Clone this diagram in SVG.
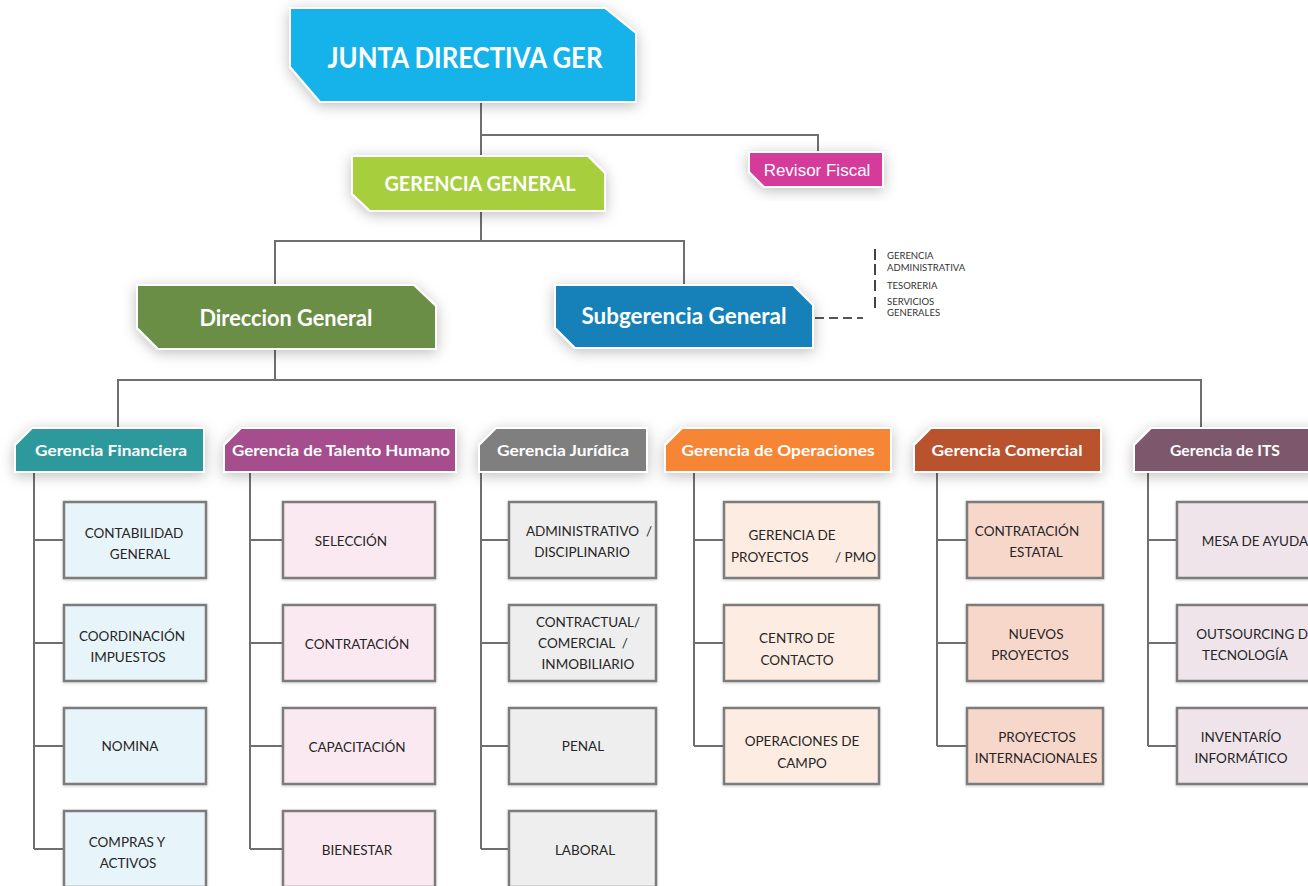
<svg xmlns="http://www.w3.org/2000/svg" width="1308" height="886" viewBox="0 0 1308 886">
<defs>
<filter id="sh" x="-20%" y="-40%" width="140%" height="180%">
<feDropShadow dx="0" dy="3" stdDeviation="7" flood-color="#000" flood-opacity="0.25"/>
</filter>
<filter id="sh2" x="-10%" y="-10%" width="120%" height="130%">
<feDropShadow dx="0" dy="1" stdDeviation="1.5" flood-color="#000" flood-opacity="0.2"/>
</filter>
</defs>
<style>
.shape{stroke:#ffffff;stroke-width:2;filter:url(#sh)}
.big{font-family:Lato,"Liberation Sans",sans-serif;font-weight:700;fill:#ffffff;text-anchor:middle}
.hd{font-family:Lato,"Liberation Sans",sans-serif;font-weight:700;font-size:15px;fill:#ffffff;text-anchor:middle}
.box{stroke:#7b7b7b;stroke-width:2.5;filter:url(#sh2)}
.bt{font-family:Lato,"Liberation Sans",sans-serif;font-size:13.5px;fill:#262626;text-anchor:middle}
.st{text-anchor:start}
.en{text-anchor:end}
.ln{fill:none;stroke:#6f6f6f;stroke-width:2}
.sl{font-family:Lato,"Liberation Sans",sans-serif;font-size:9.5px;fill:#333333}
.fin{fill:#e7f4f9}.th{fill:#fbe9f1}.jur{fill:#eeeeee}.op{fill:#fdece1}.com{fill:#f8d7cb}.its{fill:#efe4ea}
</style>

<g id="connectors">
<path class="ln" d="M481,102 V156 M481,135 H818 V152"/>
<path class="ln" d="M481,211 V241 M275,241 H684 M275,240 V285 M684,240 V285"/>
<path class="ln" d="M275,349 V380 M118,380 H1201 M118,379 V428 M1201,379 V428"/>
<path fill="none" stroke="#555" stroke-width="2" stroke-dasharray="9,5" d="M815,318 H863"/>
<path class="ln" d="M34,472 V849 M34,540 H64 M34,643 H64 M34,746 H64 M34,849 H64"/>
<path class="ln" d="M250,472 V849 M250,540 H283 M250,643 H283 M250,746 H283 M250,849 H283"/>
<path class="ln" d="M481,472 V849 M481,540 H509 M481,643 H509 M481,746 H509 M481,849 H509"/>
<path class="ln" d="M694,472 V746 M694,540 H724 M694,643 H724 M694,746 H724"/>
<path class="ln" d="M937,472 V746 M937,540 H967 M937,643 H967 M937,746 H967"/>
<path class="ln" d="M1148,472 V746 M1148,540 H1177 M1148,643 H1177 M1148,746 H1177"/>
</g>

<g id="junta">
<path class="shape" fill="#17b3ea" d="M290,8 H605 L636,33 V102 H320 L290,67 Z"/>
<text class="big" x="465" y="68" font-size="29" textLength="275" lengthAdjust="spacingAndGlyphs">JUNTA DIRECTIVA GER</text>
</g>
<g id="revisor">
<path class="shape" fill="#d53b9b" d="M749,152 H883 V187 H764 L749,172 Z"/>
<text x="817" y="176" font-family="'Liberation Sans',Arial,sans-serif" font-size="17" fill="#ffffff" text-anchor="middle">Revisor Fiscal</text>
</g>
<g id="gerencia-general">
<path class="shape" fill="#a6ce3c" d="M352,156 H588 L605,173 V211 H370 L352,194 Z"/>
<text class="big" x="480" y="191" font-size="20" textLength="191" lengthAdjust="spacingAndGlyphs">GERENCIA GENERAL</text>
</g>
<g id="direccion-general">
<path class="shape" fill="#6a8e45" d="M137,285 H414 L436,306 V349 H158 L137,328 Z"/>
<text class="big" x="286" y="326" font-size="22" textLength="173" lengthAdjust="spacingAndGlyphs">Direccion General</text>
</g>
<g id="subgerencia-general">
<path class="shape" fill="#1681b8" d="M555,285 H793 L813,305 V348 H575 L555,328 Z"/>
<text class="big" x="684" y="324" font-size="22" textLength="205" lengthAdjust="spacingAndGlyphs">Subgerencia General</text>
</g>
<g id="subgerencia-list">
<rect x="874" y="249" width="2" height="11" fill="#444"/>
<rect x="874" y="264" width="2" height="11" fill="#444"/>
<rect x="874" y="280" width="2" height="11" fill="#444"/>
<rect x="874" y="297" width="2" height="11" fill="#444"/>
<text class="sl" x="887" y="259">GERENCIA</text>
<text class="sl" x="887" y="271">ADMINISTRATIVA</text>
<text class="sl" x="887" y="289">TESORERIA</text>
<text class="sl" x="887" y="305">SERVICIOS</text>
<text class="sl" x="887" y="316">GENERALES</text>
</g>

<g id="h-financiera">
<path class="shape" fill="#2d999d" d="M32,428 H204 V472 H15 V445 Z"/>
<text class="hd" x="111" y="456" textLength="152" lengthAdjust="spacingAndGlyphs">Gerencia Financiera</text>
</g>
<g id="h-talento">
<path class="shape" fill="#a64e8d" d="M241,428 H456 V472 H224 V445 Z"/>
<text class="hd" x="341" y="456" textLength="218" lengthAdjust="spacingAndGlyphs">Gerencia de Talento Humano</text>
</g>
<g id="h-juridica">
<path class="shape" fill="#7f7f80" d="M496,428 H647 V472 H479 V445 Z"/>
<text class="hd" x="563" y="456" textLength="132" lengthAdjust="spacingAndGlyphs">Gerencia Jurídica</text>
</g>
<g id="h-operaciones">
<path class="shape" fill="#f68634" d="M682,428 H891 V472 H665 V445 Z"/>
<text class="hd" x="778" y="456" textLength="193" lengthAdjust="spacingAndGlyphs">Gerencia de Operaciones</text>
</g>
<g id="h-comercial">
<path class="shape" fill="#b9532f" d="M931,428 H1101 V472 H914 V445 Z"/>
<text class="hd" x="1007" y="456" textLength="151" lengthAdjust="spacingAndGlyphs">Gerencia Comercial</text>
</g>
<g id="h-its">
<path class="shape" fill="#7d586d" d="M1151,428 H1320 V472 H1134 V445 Z"/>
<text class="hd" x="1225" y="456" textLength="110" lengthAdjust="spacingAndGlyphs">Gerencia de ITS</text>
</g>

<g id="fin-1"><rect class="box fin" x="64" y="502" width="142" height="76"/><text class="bt" x="134" y="538">CONTABILIDAD</text><text class="bt" x="140" y="559">GENERAL</text></g>
<g id="fin-2"><rect class="box fin" x="64" y="605" width="142" height="76"/><text class="bt" x="132" y="641">COORDINACIÓN</text><text class="bt" x="128" y="662">IMPUESTOS</text></g>
<g id="fin-3"><rect class="box fin" x="64" y="708" width="142" height="76"/><text class="bt" x="130" y="751">NOMINA</text></g>
<g id="fin-4"><rect class="box fin" x="64" y="811" width="142" height="76"/><text class="bt" x="127" y="847">COMPRAS Y</text><text class="bt" x="128" y="868">ACTIVOS</text></g>

<g id="th-1"><rect class="box th" x="283" y="502" width="152" height="76"/><text class="bt" x="351" y="546">SELECCIÓN</text></g>
<g id="th-2"><rect class="box th" x="283" y="605" width="152" height="76"/><text class="bt" x="357" y="649">CONTRATACIÓN</text></g>
<g id="th-3"><rect class="box th" x="283" y="708" width="152" height="76"/><text class="bt" x="357" y="752">CAPACITACIÓN</text></g>
<g id="th-4"><rect class="box th" x="283" y="811" width="152" height="76"/><text class="bt" x="357" y="855">BIENESTAR</text></g>

<g id="jur-1"><rect class="box jur" x="509" y="502" width="147" height="76"/><text class="bt" x="589" y="536" xml:space="preserve">ADMINISTRATIVO  /</text><text class="bt" x="582" y="557">DISCIPLINARIO</text></g>
<g id="jur-2"><rect class="box jur" x="509" y="605" width="147" height="76"/><text class="bt" x="588" y="627">CONTRACTUAL/</text><text class="bt" x="583" y="648" xml:space="preserve">COMERCIAL  /</text><text class="bt" x="588" y="669">INMOBILIARIO</text></g>
<g id="jur-3"><rect class="box jur" x="509" y="708" width="147" height="76"/><text class="bt" x="583" y="751">PENAL</text></g>
<g id="jur-4"><rect class="box jur" x="509" y="811" width="147" height="76"/><text class="bt" x="585" y="855">LABORAL</text></g>

<g id="op-1"><rect class="box op" x="724" y="502" width="155" height="76"/><text class="bt" x="792" y="540">GERENCIA DE</text><text class="bt st" x="731" y="562">PROYECTOS</text><text class="bt en" x="876" y="562">/ PMO</text></g>
<g id="op-2"><rect class="box op" x="724" y="605" width="155" height="76"/><text class="bt" x="797" y="643">CENTRO DE</text><text class="bt" x="797" y="665">CONTACTO</text></g>
<g id="op-3"><rect class="box op" x="724" y="708" width="155" height="76"/><text class="bt" x="802" y="746">OPERACIONES DE</text><text class="bt" x="802" y="768">CAMPO</text></g>

<g id="com-1"><rect class="box com" x="967" y="502" width="136" height="76"/><text class="bt" x="1027" y="536">CONTRATACIÓN</text><text class="bt" x="1036" y="557">ESTATAL</text></g>
<g id="com-2"><rect class="box com" x="967" y="605" width="136" height="76"/><text class="bt" x="1036" y="639">NUEVOS</text><text class="bt" x="1030" y="660">PROYECTOS</text></g>
<g id="com-3"><rect class="box com" x="967" y="708" width="136" height="76"/><text class="bt" x="1037" y="742">PROYECTOS</text><text class="bt" x="1036" y="763">INTERNACIONALES</text></g>

<g id="its-1"><rect class="box its" x="1177" y="502" width="153" height="76"/><text class="bt" x="1255" y="546">MESA DE AYUDA</text></g>
<g id="its-2"><rect class="box its" x="1177" y="605" width="153" height="76"/><text class="bt" x="1256" y="639">OUTSOURCING DE</text><text class="bt" x="1245" y="660">TECNOLOGÍA</text></g>
<g id="its-3"><rect class="box its" x="1177" y="708" width="153" height="76"/><text class="bt" x="1241" y="742">INVENTARÍO</text><text class="bt" x="1241" y="763">INFORMÁTICO</text></g>
</svg>
